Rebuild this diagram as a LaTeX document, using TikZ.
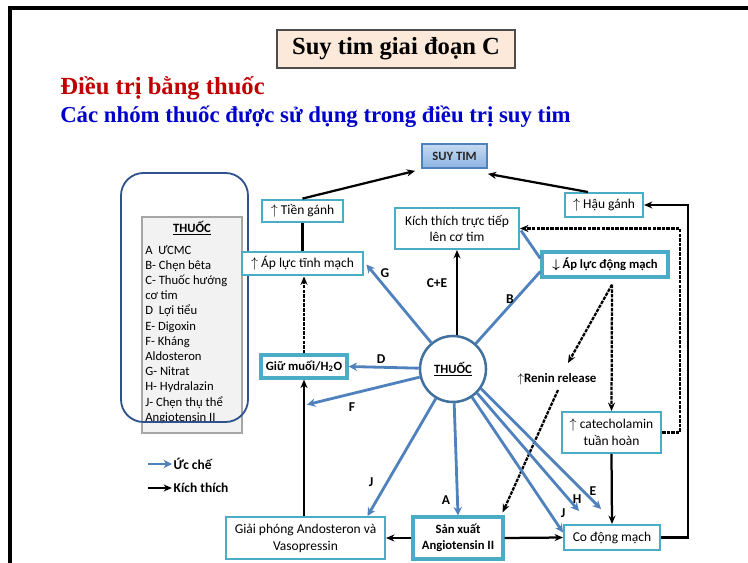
\documentclass[tikz,border=0pt]{standalone}
\usepackage{fontspec}
\setmainfont{Carlito}
\newfontfamily\timesf{Liberation Serif}
\usepackage{tikz}
\usetikzlibrary{arrows.meta,calc,shapes,shadings}
\definecolor{cyanbd}{HTML}{4BACC6}
\definecolor{inhblue}{HTML}{4F81BD}
\definecolor{circbd}{HTML}{41719C}
\definecolor{legbd}{HTML}{2F528F}
\definecolor{titlefill}{HTML}{FDE9D9}
\definecolor{redtxt}{HTML}{C00000}
\definecolor{bluetxt}{HTML}{0000CC}
\definecolor{suytop}{HTML}{C6D9F1}
\definecolor{suybot}{HTML}{8DB4E2}
\tikzstyle{cbox}=[draw=cyanbd, line width=1.4pt, fill=white, inner sep=0pt, align=center, font=\fontsize{9.6}{12}\selectfont]
\tikzstyle{cboxm}=[cbox, line width=2pt]
\tikzstyle{cboxb}=[cbox, line width=2.3pt, font=\bfseries\fontsize{9}{11}\selectfont]
\tikzstyle{inhib}=[inhblue, line width=2pt, -{Stealth[length=6pt,width=6pt]}]
\tikzstyle{stim}=[black, line width=1.6pt, -{Stealth[length=6pt,width=5pt]}]
\tikzstyle{stimd}=[stim, dash pattern=on 2.5pt off 0.8pt]
\tikzstyle{lbl}=[font=\bfseries\fontsize{9.6}{10}\selectfont, inner sep=1pt]

\begin{document}
\begin{tikzpicture}[x=0.025cm, y=-0.025cm]
	\useasboundingbox (0,0) rectangle (748,563);
	\draw[line width=2.2pt] (10,563) -- (10,8) -- (748,8);
%
	\node[draw=black!70, fill=titlefill, line width=0.8pt, minimum width=5.95cm, minimum height=0.95cm, font=\timesf\bfseries\fontsize{17.5}{20}\selectfont] (title) at (396,49) {Suy tim giai đoạn C};
	\node[anchor=west, inner sep=0pt, text=redtxt, font=\timesf\bfseries\fontsize{17.5}{20}\selectfont] (head) at (60,88) {Điều trị bằng thuốc};
	\node[anchor=west, inner sep=0pt, text=bluetxt, font=\timesf\bfseries\fontsize{16.2}{18}\selectfont] (subhead) at (60,117) {Các nhóm thuốc được sử dụng trong điều trị suy tim};
%
	\node[draw=gray!70, fill=gray!10, line width=1pt, minimum width=2.5cm, minimum height=5.4cm] (drugbox) at (192,325) {};
	\node[font=\bfseries\fontsize{9}{10}\selectfont] (drugtitle) at (192,228) {\underline{THUỐC}};
	\node[anchor=north west, align=left, inner sep=0pt, font=\fontsize{9}{10.8}\selectfont] (druglist) at (145,245) {A\ \ ƯCMC\\B- Chẹn bêta\\C- Thuốc hướng\\cơ tim\\D\ \ Lợi tiểu\\E- Digoxin\\F- Kháng\\Aldosteron\\G- Nitrat\\H- Hydralazin\\J- Chẹn thụ thể\\Angiotensin II};
	\draw[legbd, line width=1.3pt, rounded corners=16pt] (121,173) rectangle (248,422);
%
	\node[cbox, draw=inhblue, line width=1.2pt, top color=suytop, bottom color=suybot, minimum width=1.625cm, minimum height=0.6cm, font=\bfseries\fontsize{9}{10}\selectfont, text=black!85] (suytim) at (454.5,156) {SUY TIM};
	\node[cboxm, minimum width=2.025cm, minimum height=0.55cm] (tien) at (302.5,211) {$\uparrow$ Tiền gánh};
	\node[cbox, minimum width=3.1cm, minimum height=1.025cm] (kich) at (457,228.5) {Kích thích trực tiếp\\lên cơ tim};
	\node[cbox, minimum width=1.95cm, minimum height=0.6cm] (hau) at (604,205) {$\uparrow$ Hậu gánh};
	\node[cboxm, minimum width=3.025cm, minimum height=0.575cm] (tinh) at (302.5,263.5) {$\uparrow$ Áp lực tĩnh mạch};
	\node[cboxb, minimum width=3.15cm, minimum height=0.625cm] (dong) at (605,264.5) {{\boldmath$\downarrow$} Áp lực động mạch};
	\node[cboxb, minimum width=2.15cm, minimum height=0.575cm] (giu) at (304,366.5) {Giữ muối/H\textsubscript{2}O};
	\node[circle, draw=circbd, line width=1.8pt, fill=white, minimum size=1.65cm, inner sep=0pt, font=\bfseries\fontsize{9}{10}\selectfont] (thuoc) at (453,369) {\underline{THUỐC}};
	\node[font=\bfseries\fontsize{9.2}{10}\selectfont, inner sep=1pt] (renin) at (557,379) {$\uparrow$Renin release};
	\node[cbox, minimum width=2.475cm, minimum height=1.025cm] (cate) at (611.5,432.5) {$\uparrow$ catecholamin\\tuần hoàn};
	\node[cbox, minimum width=3.975cm, minimum height=1.05cm] (giai) at (305.5,538) {Giải phóng Andosteron và\\Vasopressin};
	\node[cboxb, minimum width=2.25cm, minimum height=1.05cm] (sanxuat) at (458,538) {Sản xuất\\Angiotensin II};
	\node[cbox, minimum width=2.4cm, minimum height=0.625cm] (co) at (612,537.5) {Co động mạch};
%
	\draw[stim] (tien.north) -- ($(suytim.south west)+(-6,2)$);
	\draw[stim] ($(hau.north)+(-16,0)$) -- ($(suytim.south east)+(0,5)$);
	\draw[line width=1.6pt] (tinh.north) -- (tien.south);
	\draw[stimd] (giu.north) -- (giu.north |- tinh.south);
	\draw[stim] (giai.north -| giu.south) -- (giu.south);
	\draw[stim] (kich.south |- thuoc.north) -- (kich.south);
	\draw[stim] (co.east) -- ++(27,0) |- (hau.east);
	\draw[stimd] (cate.east) -- ++(18,0) |- (kich.east);
	\draw[stimd] ($(dong.south)+(7,6)$) -- (cate.north);
	\draw[stimd] ($(dong.south)+(7,6)$) -- ($(renin.center)+(11,-16)$);
	\draw[stimd] ($(renin.center)+(1,11)$) -- ($(sanxuat.north east)+(-2,-3)$);
	\draw[stim] (cate.south) -- (co.north);
	\draw[stim] (sanxuat.east) -- (co.west);
	\draw[stim] (sanxuat.west) -- (giai.east);
%
	\coordinate (fend) at ($(giu.south)+(3,25)$);
	\draw[inhib] (thuoc) -- ($(tinh.east)+(2,1)$);
	\draw[inhib, -] (thuoc) -- ($(dong.west)+(0,7)$);
	\draw[inhib, -] ($(dong.west)+(0,-6)$) -- ($(kich.east)+(1,2)$);
	\draw[inhib] (thuoc) -- (giu.east);
	\draw[inhib] (thuoc) -- (fend);
	\draw[inhib] (thuoc) -- ($(giai.north)+(62,0)$);
	\draw[inhib] (thuoc) -- (sanxuat.north);
	\draw[inhib] (thuoc.-56) -- ($(co.west)+(0,-5)$);
	\draw[inhib] (thuoc.-45) -- ($(co.north west)+(16,-13)$);
	\draw[inhib] (thuoc.-35) -- ($(co.north)+(-11,-15)$);
%
	\node[lbl] (lG) at (385,273) {G};
	\node[lbl] (lB) at (510,299) {B};
	\node[lbl] (lCE) at (437,283) {C+E};
	\node[lbl] (lD) at (381,359) {D};
	\node[lbl] (lF) at (352,407) {F};
	\node[lbl] (lJa) at (371,482) {J};
	\node[lbl] (lA) at (446,500) {A};
	\node[lbl] (lJb) at (563,513) {J};
	\node[lbl] (lH) at (577,499) {H};
	\node[lbl] (lE) at (593,491) {E};
%
	\node[lbl, anchor=west] (lgInh) at (172,464) {Ức chế};
	\draw[inhib] ($(lgInh.west)+(-24,0)$) -- (lgInh.west);
	\node[lbl, anchor=west] (lgStim) at (172,488) {Kích thích};
	\draw[stim] ($(lgStim.west)+(-24,0)$) -- (lgStim.west);
\end{tikzpicture}
\end{document}
